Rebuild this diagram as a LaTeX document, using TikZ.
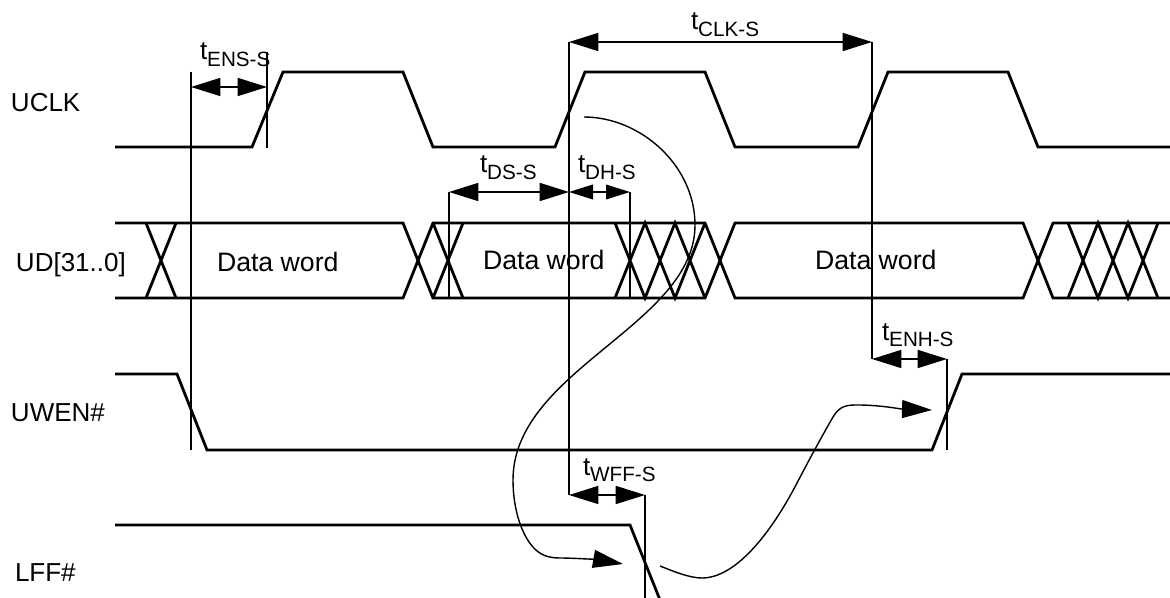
\documentclass[tikz,border=0pt]{standalone}
\usepackage{fontspec}
\setmainfont{Liberation Sans}
\usetikzlibrary{arrows.meta}
\newcommand{\tsub}[1]{{\fontsize{19.5}{22}\selectfont t}\raisebox{-5.2pt}{\fontsize{15.5}{18}\selectfont #1}}
\tikzset{
  sig/.style={line width=2.1pt,line join=miter,black},
  dim/.style={line width=1.2pt,black},
  dimbig/.style={dim,{Triangle[length=22pt,width=13.5pt]}-{Triangle[length=22pt,width=13.5pt]}},
  dimmid/.style={dim,{Triangle[length=18pt,width=11pt]}-{Triangle[length=18pt,width=11pt]}},
  curve/.style={line width=1.05pt,black},
  curvearrow/.style={curve,-{Triangle[length=22.5pt,width=13.5pt]}},
  lab/.style={anchor=base west,inner sep=0pt,outer sep=0pt,font=\fontsize{19.5}{22}\selectfont},
  wordlab/.style={anchor=base west,inner sep=0pt,outer sep=0pt,font=\fontsize{20}{22}\selectfont},
  tlab/.style={anchor=base west,inner sep=0pt,outer sep=0pt}
}
\begin{document}
\begin{tikzpicture}[x=0.75pt,y=-0.75pt]
\useasboundingbox (0,0) rectangle (1170,598);
\clip (0,0) rectangle (1170,598);
% labels
\node[lab] (nuclk) at (11,112) {UCLK};
\node[lab] (nud) at (16,272) {UD[31..0]};
\node[lab] (nuwen) at (11,421) {UWEN\#};
\node[lab] (nlff) at (15,581) {LFF\#};
\node[wordlab] (dw1) at (217,272) {Data word};
\node[wordlab] (dw2) at (483,270) {Data word};
\node[wordlab] (dw3) at (815,270) {Data word};
\node[tlab] (tens) at (200,60) {\tsub{ENS-S}};
\node[tlab] (tclk) at (691,30) {\tsub{CLK-S}};
\node[tlab] (tds) at (480,173) {\tsub{DS-S}};
\node[tlab] (tdh) at (578,173) {\tsub{DH-S}};
\node[tlab] (tenh) at (882,340) {\tsub{ENH-S}};
\node[tlab] (twff) at (583,475) {\tsub{WFF-S}};
% signals
\draw[sig] (115,147) -- (252,147) -- (283,72) -- (403,72) -- (433,147) -- (555,147) -- (585,72) -- (705,72) -- (735,147) -- (858,147) -- (888,72) -- (1008,72) -- (1038,147) -- (1170,147);
% data bus
\draw[sig] (115,223) -- (403,223) -- (433,298) -- (705,298) -- (735,223) -- (1023,223) -- (1053,298) -- (1170,298);
\draw[sig] (115,298) -- (403,298) -- (433,223) -- (705,223) -- (735,298) -- (1023,298) -- (1053,223) -- (1170,223);
\draw[sig] (146,223) -- (176,298) (146,298) -- (176,223);
\draw[sig] (433,223) -- (463,298) (433,298) -- (463,223);
\draw[sig] (615,223) -- (645,298) -- (675,223) -- (705,298) (615,298) -- (645,223) -- (675,298) -- (705,223);
\draw[sig] (1068,223) -- (1098,298) -- (1128,223) -- (1158,298) (1068,298) -- (1098,223) -- (1128,298) -- (1158,223);
% enables
\draw[sig] (115,374) -- (177,374) -- (207,450) -- (932,450) -- (962,374) -- (1170,374);
\draw[sig] (115,525) -- (630,525) -- (660,600);
% reference coordinates
\coordinate (a1) at (191,87); \coordinate (a2) at (267,87);
\coordinate (b1) at (449,192); \coordinate (b2) at (569,192); \coordinate (b3) at (630,192);
\coordinate (c1) at (569,42); \coordinate (c2) at (872,42);
\coordinate (d1) at (872,359); \coordinate (d2) at (947,359);
\coordinate (e1) at (569,495); \coordinate (e2) at (645,495);
% extension lines
\draw[dim] (191,72) -- (191,450);
\draw[dim] (267,52) -- (267,148);
\draw[dim] (b1) -- (449,298);
\draw[dim] (b3) -- (630,298);
\draw[dim] (c1) -- (e1);
\draw[dim] (c2) -- (d1);
\draw[dim] (d2) -- (947,450);
\draw[dim] (e2) -- (645,600);
% dimension arrows
\draw[dimbig] (a1) -- (a2);
\draw[dimbig] (b1) -- (b2);
\draw[dimmid] (b2) -- (b3);
\draw[dimbig] (c1) -- (c2);
\draw[dimbig] (d1) -- (d2);
\draw[dimbig] (e1) -- (e2);
% causal curves
\coordinate (p1) at (584,117); \coordinate (p2) at (623,564);
\coordinate (q1) at (660,566); \coordinate (q2) at (932,410);
\draw[curvearrow] (p1) .. controls (640,117) and (695,165) .. (695,225)
  .. controls (695,325) and (513,370) .. (513,480)
  .. controls (513,510) and (522,535) .. (533,547)
  .. controls (540,555) and (548,558) .. (560,558)
  .. controls (575,558) and (600,560) .. (p2);
\draw[curvearrow] (q1) .. controls (675,572) and (690,578) .. (702,578)
  .. controls (735,578) and (770,535) .. (797,483)
  .. controls (809,460) and (822,436) .. (833,417)
  .. controls (840,405) and (848,405) .. (858,405)
  .. controls (880,405) and (900,409) .. (q2);
\end{tikzpicture}
\end{document}
